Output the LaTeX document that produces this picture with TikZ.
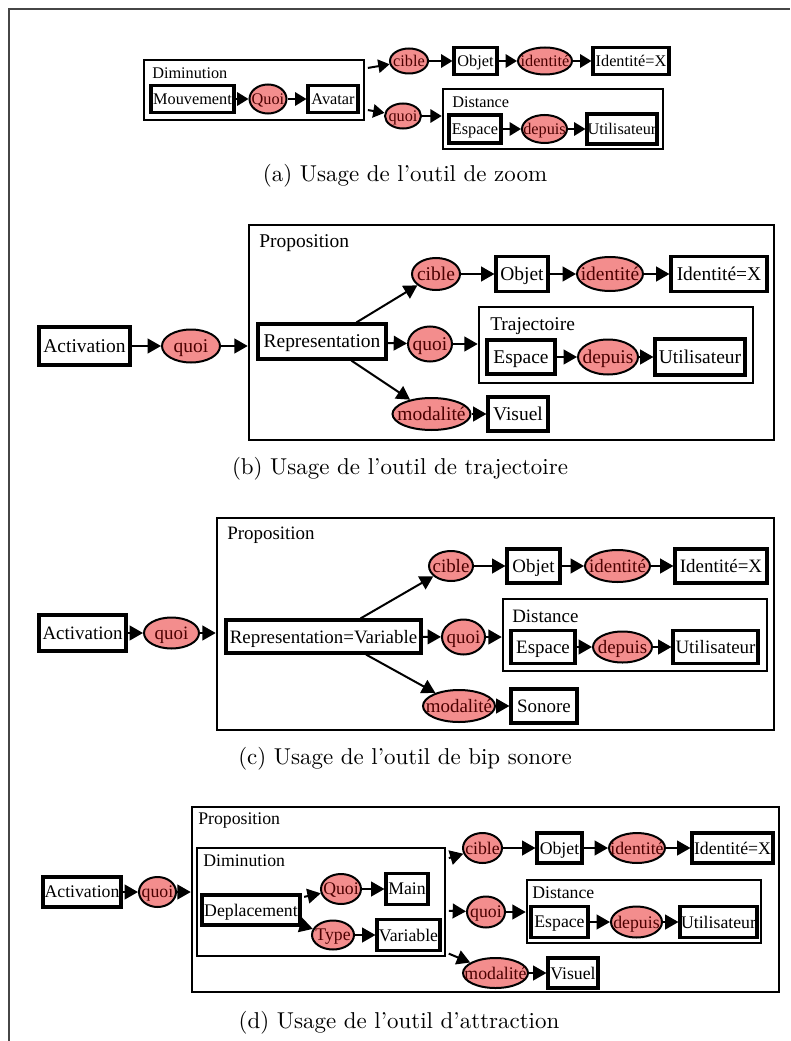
\documentclass[tikz,border=0pt]{standalone}
\usepackage{fontspec}
\newfontfamily\diafont{Liberation Serif}
\newfontfamily\capfont{lmroman10-regular.otf}
\definecolor{relpink}{RGB}{243,141,141}
\definecolor{reltext}{RGB}{75,0,0}
\definecolor{cadregris}{RGB}{70,70,70}
\usetikzlibrary{shapes.geometric, arrows.meta, positioning}

\tikzset{
  box/.style 2 args={draw, line width=2.3pt, fill=white, inner sep=0pt, text depth=0pt, minimum width=#1*0.75pt, minimum height=#2*0.75pt},
  rel/.style 2 args={ellipse, draw, line width=1.5pt, fill=relpink, text=reltext, text depth=0pt, inner xsep=-40pt, inner ysep=-20pt, minimum width=#1*0.75pt, minimum height=#2*0.75pt},
  cadre/.style 2 args={draw, line width=1.9pt, inner sep=0pt, minimum width=#1*0.75pt, minimum height=#2*0.75pt},
  titre/.style={anchor=west, inner sep=0pt},
  fl/.style={-{Triangle[length=10pt, width=11pt]}, line width=1.5pt},
  legende/.style={anchor=base, inner sep=0pt, font=\capfont\fontsize{17.2}{20}\selectfont},
}

\begin{document}
\begin{tikzpicture}[x=0.75pt, y=-0.75pt]
  \useasboundingbox (0,0) rectangle (790,1041);
  \draw[cadregris, line width=1.4pt] (9,1041) -- (9,9) -- (790,9);

  % (a) zoom
  \begin{scope}[font=\diafont\fontsize{12.2}{14}\selectfont, fl/.append style={-{Triangle[length=8.5pt, width=10pt]}}]
    \node[cadre={220}{60}] (dimA) at (254,90) {};
    \node[titre] (dimAt) at (152,73) {Diminution};
    \node[box={83}{27}] (mouvA) at (192.5,99) {Mouvement};
    \node[rel={37}{29}] (quoiA) at (268,99) {Quoi};
    \node[box={50}{27}] (avatarA) at (333,99) {Avatar};
    \node[rel={38}{25}] (cibleA) at (409,61) {cible};
    \node[box={43}{27}] (objetA) at (475.5,61) {Objet};
    \node[rel={54}{27}] (identA) at (545,61) {identité};
    \node[box={76}{27}] (idxA) at (631,61) {Identité=X};
    \node[rel={36}{25}] (quoiA2) at (403,116) {quoi};
    \node[cadre={220}{60}] (distA) at (553,119) {};
    \node[titre] (distAt) at (452,102) {Distance};
    \node[box={52}{28}] (espaceA) at (475,129) {Espace};
    \node[rel={45}{28}] (depuisA) at (544.5,129) {depuis};
    \node[box={70}{30}] (utilA) at (622,129) {Utilisateur};
    \draw[fl] (mouvA) -- (quoiA);
    \draw[fl] (quoiA) -- (avatarA);
    \draw[fl, shorten <=2pt] (dimA.11) -- (cibleA);
    \draw[fl, shorten <=2pt] (dimA.-10) -- (quoiA2);
    \draw[fl] (quoiA2) -- (quoiA2 -| distA.west);
    \draw[fl] (cibleA) -- (objetA);
    \draw[fl] (objetA) -- (identA);
    \draw[fl] (identA) -- (idxA);
    \draw[fl] (espaceA) -- (depuisA);
    \draw[fl] (depuisA) -- (utilA);
  \end{scope}
  \node[legende] (capA) at (405,182) {(a) Usage de l’outil de zoom};

  % (b) trajectoire
  \begin{scope}[font=\diafont\fontsize{14.6}{17}\selectfont]
    \node[cadre={525}{215}] (propB) at (511.5,332.5) {};
    \node[titre] (propBt) at (259,243) {Proposition};
    \node[box={91}{38}] (actB) at (84.5,346) {Activation};
    \node[rel={58}{33}] (quoiB) at (191,346) {quoi};
    \node[box={128}{35}] (repB) at (322,341.5) {Representation};
    \node[rel={48}{32}] (cibleB) at (436,274) {cible};
    \node[box={52}{35}] (objetB) at (522,274) {Objet};
    \node[rel={66}{34}] (identB) at (610,274) {identité};
    \node[box={96}{35}] (idxB) at (719,274) {Identité=X};
    \node[rel={44}{35}] (quoiB2) at (430,344) {quoi};
    \node[cadre={274}{76}] (trajB) at (616,345) {};
    \node[titre] (trajBt) at (490,326) {Trajectoire};
    \node[box={68}{34}] (espaceB) at (521,357) {Espace};
    \node[rel={60}{35}] (depuisB) at (608,357) {depuis};
    \node[box={90}{36}] (utilB) at (700,357) {Utilisateur};
    \node[rel={78}{32}] (modB) at (431.5,414) {modalité};
    \node[box={60}{34}] (visuelB) at (518,414) {Visuel};
    \draw[fl] (actB) -- (quoiB);
    \draw[fl] (quoiB) -- (quoiB -| propB.west);
    \draw[fl] (repB.29) -- (cibleB);
    \draw[fl] (repB) -- (quoiB2);
    \draw[fl] (repB.-33) -- (modB);
    \draw[fl] (quoiB2) -- (quoiB2 -| trajB.west);
    \draw[fl] (cibleB) -- (objetB);
    \draw[fl] (objetB) -- (identB);
    \draw[fl] (identB) -- (idxB);
    \draw[fl] (espaceB) -- (depuisB);
    \draw[fl] (depuisB) -- (utilB);
    \draw[fl] (modB) -- (visuelB);
  \end{scope}
  \node[legende] (capB) at (400,474) {(b) Usage de l’outil de trajectoire};

  % (c) bip sonore
  \begin{scope}[font=\diafont\fontsize{14.2}{17}\selectfont]
    \node[cadre={557}{212}] (propC) at (495.5,624) {};
    \node[titre] (propCt) at (227,535) {Proposition};
    \node[box={87}{36}] (actC) at (82.5,633) {Activation};
    \node[rel={55}{31}] (quoiC) at (171.5,633) {quoi};
    \node[box={195}{33}] (repC) at (323.5,636.5) {Representation=Variable};
    \node[rel={44}{30}] (cibleC) at (451,566) {cible};
    \node[box={53}{34}] (objetC) at (533.5,566) {Objet};
    \node[rel={65}{32}] (identC) at (617.5,566) {identité};
    \node[box={92}{34}] (idxC) at (721,566) {Identité=X};
    \node[rel={43}{35}] (quoiC2) at (463.5,637) {quoi};
    \node[cadre={264}{72}] (distC) at (635,635) {};
    \node[titre] (distCt) at (512,616) {Distance};
    \node[box={64}{33}] (espaceC) at (543,647) {Espace};
    \node[rel={59}{31}] (depuisC) at (622.5,647) {depuis};
    \node[box={85}{33}] (utilC) at (715.5,647) {Utilisateur};
    \node[rel={72}{32}] (modC) at (459,706) {modalité};
    \node[box={66}{34}] (sonoreC) at (544,706) {Sonore};
    \draw[fl] (actC) -- (quoiC);
    \draw[fl] (quoiC) -- (quoiC -| propC.west);
    \draw[fl] (repC.26) -- (cibleC);
    \draw[fl] (repC) -- (quoiC2);
    \draw[fl] (repC.-23) -- (modC);
    \draw[fl] (quoiC2) -- (quoiC2 -| distC.west);
    \draw[fl] (cibleC) -- (objetC);
    \draw[fl] (objetC) -- (identC);
    \draw[fl] (identC) -- (idxC);
    \draw[fl] (espaceC) -- (depuisC);
    \draw[fl] (depuisC) -- (utilC);
    \draw[fl] (modC) -- (sonoreC);
  \end{scope}
  \node[legende] (capC) at (405,764) {(c) Usage de l’outil de bip sonore};

  % (d) attraction
  \begin{scope}[font=\diafont\fontsize{13.3}{16}\selectfont]
    \node[cadre={587}{185}] (propD) at (485.5,899.5) {};
    \node[titre] (propDt) at (198,821) {Proposition};
    \node[box={78}{30}] (actD) at (82,892) {Activation};
    \node[rel={37}{30}] (quoiD) at (157.5,892) {quoi};
    \node[cadre={248}{108}] (dimD) at (321,902) {};
    \node[titre] (dimDt) at (203,861) {Diminution};
    \node[box={98}{30}] (deplD) at (251,910) {Deplacement};
    \node[rel={40}{30}] (quoiD2) at (341,889) {Quoi};
    \node[box={42}{31}] (mainD) at (407,889) {Main};
    \node[rel={42}{29}] (typeD) at (333,935) {Type};
    \node[box={63}{31}] (varD) at (408.5,935) {Variable};
    \node[rel={39}{30}] (cibleD) at (482.5,848) {cible};
    \node[box={45}{30}] (objetD) at (559.5,848) {Objet};
    \node[rel={56}{30}] (identD) at (637,848) {identité};
    \node[box={81}{30}] (idxD) at (732.5,848) {Identité=X};
    \node[rel={38}{31}] (quoiD3) at (486,912) {quoi};
    \node[cadre={234}{63}] (distD) at (644,911.5) {};
    \node[titre] (distDt) at (532,893) {Distance};
    \node[box={57}{31}] (espaceD) at (559.5,922) {Espace};
    \node[rel={51}{31}] (depuisD) at (636.5,922) {depuis};
    \node[box={77}{31}] (utilD) at (718.5,922) {Utilisateur};
    \node[rel={65}{30}] (modD) at (495.5,973) {modalité};
    \node[box={50}{30}] (visuelD) at (573,973) {Visuel};
    \draw[fl] (actD) -- (quoiD);
    \draw[fl] (quoiD) -- (quoiD -| propD.west);
    \draw[fl, shorten <=2pt] (deplD.14) -- (quoiD2);
    \draw[fl, shorten <=2pt] (deplD.-17) -- (typeD);
    \draw[fl] (quoiD2) -- (mainD);
    \draw[fl] (typeD) -- (varD);
    \draw[fl, shorten <=2pt] (dimD.19) -- (cibleD);
    \draw[fl, shorten <=2pt] (dimD.-4) -- (quoiD3);
    \draw[fl, shorten <=2pt] (dimD.-22) -- (modD);
    \draw[fl] (quoiD3) -- (quoiD3 -| distD.west);
    \draw[fl] (cibleD) -- (objetD);
    \draw[fl] (objetD) -- (identD);
    \draw[fl] (identD) -- (idxD);
    \draw[fl] (espaceD) -- (depuisD);
    \draw[fl] (depuisD) -- (utilD);
    \draw[fl] (modD) -- (visuelD);
  \end{scope}
  \node[legende] (capD) at (399,1028) {(d) Usage de l’outil d’attraction};
\end{tikzpicture}
\end{document}
